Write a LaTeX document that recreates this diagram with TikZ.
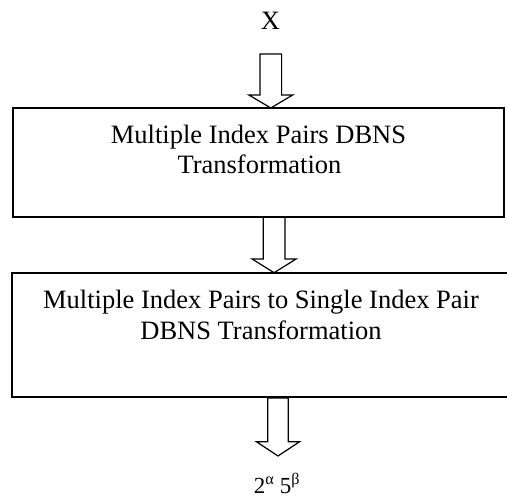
\documentclass[tikz,border=0pt]{standalone}
\usepackage{fontspec}
\setmainfont{Liberation Serif}
\begin{document}
\begin{tikzpicture}[x=1pt,y=-1pt,
  box/.style={draw, line width=1.6pt, inner sep=0pt},
  txt/.style={anchor=base, inner sep=0pt, font=\fontsize{26.5}{30}\selectfont},
  barrow/.style={draw, line width=1.2pt, line join=miter}]
\useasboundingbox (0,0) rectangle (507,500);
% input
\node[txt, anchor=center] (x) at (270.5,20.5) {X};
% boxes
\node[box, minimum width=491pt, minimum height=108.5pt] (b1) at (258.5,162.5) {};
\node[txt] (b1a) at (258.5,143.3) {Multiple Index Pairs DBNS};
\node[txt] (b1b) at (259.5,173.3) {Transformation};
\node[box, minimum width=498pt, minimum height=123.5pt] (b2) at (261,335) {};
\node[txt] (b2a) at (261,308.3) {Multiple Index Pairs to Single Index Pair};
\node[txt] (b2b) at (261,340) {DBNS Transformation};
% output
\node[anchor=base, inner sep=0pt, font=\fontsize{23}{27}\selectfont] (out) at (277,493.3) {2\textsuperscript{α} 5\textsuperscript{β}};
% block arrows
\coordinate (a1) at (270.8,54);   \coordinate (t1) at (270.8,108);
\coordinate (a2) at (274.1,217);  \coordinate (t2) at (274.1,272.7);
\coordinate (a3) at (278,398);    \coordinate (t3) at (278,456);
\draw[barrow] (a1) ++(-10.8,0) -- ++(21.6,0) -- ++(0,41) -- ++(11.1,0) -- (t1) -- ++(-21.9,-13) -- ++(11.1,0) -- cycle;
\draw[barrow] (a2) ++(-10.8,0) -- ++(21.6,0) -- ++(0,42) -- ++(11.2,0) -- (t2) -- ++(-22,-13.7) -- ++(11.2,0) -- cycle;
\draw[barrow] (a3) ++(-10.3,0) -- ++(20.6,0) -- ++(0,43.7) -- ++(11.3,0) -- (t3) -- ++(-21.6,-14.3) -- ++(11.3,0) -- cycle;
\end{tikzpicture}
\end{document}
